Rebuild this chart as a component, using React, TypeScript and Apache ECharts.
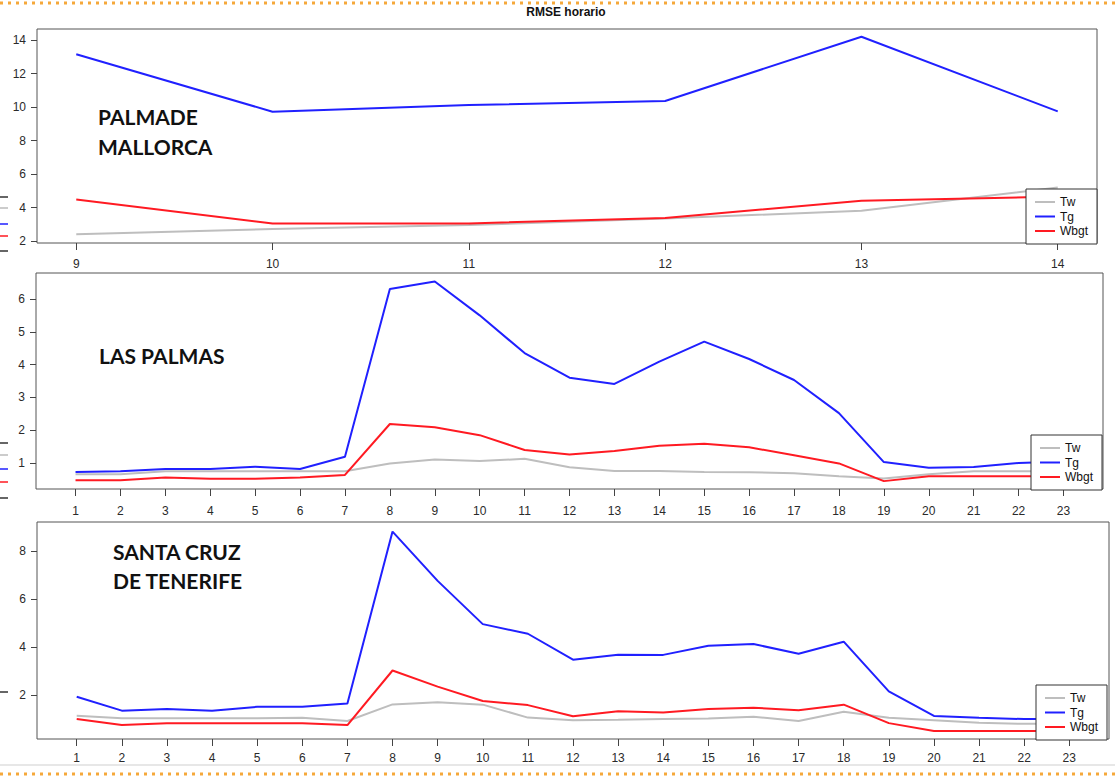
import React, { useEffect, useRef } from "react";
import * as echarts from "echarts";

const TITLE = "RMSE horario";
const SERIES_NAMES = ["Tw", "Tg", "Wbgt"];
const SERIES_COLORS = ["#bebebe", "#2020ff", "#ff1a22"];

// Panel 1: Palma de Mallorca
const PALMA_LABEL = ["PALMADE", "MALLORCA"];
const PALMA_HOURS = [9, 10, 11, 12, 13, 14];
const PALMA_TW = [2.4, 2.72, 2.95, 3.35, 3.8, 5.2];
const PALMA_TG = [13.15, 9.72, 10.12, 10.36, 14.2, 9.74];
const PALMA_WBGT = [4.48, 3.05, 3.05, 3.37, 4.4, 4.65];
const PALMA_Y_TICKS = [2, 4, 6, 8, 10, 12, 14];

// Panel 2: Las Palmas
const LP_LABEL = ["LAS PALMAS"];
const CANARY_HOURS = [1, 2, 3, 4, 5, 6, 7, 8, 9, 10, 11, 12, 13, 14, 15, 16, 17, 18, 19, 20, 21, 22, 23];
const LP_TW = [0.66, 0.66, 0.75, 0.75, 0.75, 0.75, 0.75, 0.99, 1.11, 1.06, 1.13, 0.87, 0.76, 0.76, 0.73, 0.72, 0.69, 0.6, 0.53, 0.66, 0.75, 0.75, 0.75];
const LP_TG = [0.73, 0.75, 0.82, 0.82, 0.89, 0.82, 1.19, 6.3, 6.53, 5.5, 4.35, 3.6, 3.41, 4.09, 4.7, 4.17, 3.53, 2.52, 1.03, 0.86, 0.88, 1.0, 1.05];
const LP_WBGT = [0.48, 0.48, 0.56, 0.52, 0.52, 0.56, 0.64, 2.19, 2.09, 1.85, 1.4, 1.26, 1.37, 1.53, 1.59, 1.48, 1.24, 0.99, 0.45, 0.6, 0.6, 0.6, 0.6];
const LP_Y_TICKS = [1, 2, 3, 4, 5, 6];

// Panel 3: Santa Cruz de Tenerife
const SC_LABEL = ["SANTA CRUZ", "DE TENERIFE"];
const SC_TW = [1.14, 1.03, 1.03, 1.03, 1.03, 1.05, 0.92, 1.61, 1.7, 1.6, 1.06, 0.95, 0.97, 1.0, 1.02, 1.1, 0.92, 1.3, 1.05, 0.95, 0.85, 0.8, 0.8];
const SC_TG = [1.93, 1.35, 1.42, 1.35, 1.51, 1.51, 1.65, 8.8, 6.75, 4.95, 4.55, 3.47, 3.68, 3.67, 4.05, 4.12, 3.72, 4.22, 2.15, 1.13, 1.05, 1.0, 1.0];
const SC_WBGT = [1.0, 0.75, 0.83, 0.83, 0.83, 0.83, 0.75, 3.02, 2.35, 1.75, 1.58, 1.12, 1.32, 1.27, 1.42, 1.47, 1.37, 1.6, 0.83, 0.5, 0.5, 0.5, 0.5];
const SC_Y_TICKS = [2, 4, 6, 8];

const FONT = "'Liberation Sans', Arial, sans-serif";

export default function App() {
  const ref = useRef<HTMLDivElement>(null);

  useEffect(() => {
    document.body.style.margin = "0";
    const chart = echarts.init(ref.current!, null, { renderer: "svg" });

    const panels = [
      {
        hours: PALMA_HOURS, values: [PALMA_TW, PALMA_TG, PALMA_WBGT], yTicks: PALMA_Y_TICKS,
        grid: { left: 37, top: 29, width: 1060, height: 214 },
        xMin: 8.8, xMax: 14.2, yMin: 1.88, yMax: 14.66, xLabelMargin: 15,
        legend: { left: 1026, top: 189 },
      },
      {
        hours: CANARY_HOURS, values: [LP_TW, LP_TG, LP_WBGT], yTicks: LP_Y_TICKS,
        grid: { left: 36, top: 273, width: 1067, height: 216 },
        xMin: 0.12, xMax: 23.88, yMin: 0.21, yMax: 6.79, xLabelMargin: 16,
        legend: { left: 1031, top: 435 },
      },
      {
        hours: CANARY_HOURS, values: [SC_TW, SC_TG, SC_WBGT], yTicks: SC_Y_TICKS,
        grid: { left: 37, top: 522, width: 1072, height: 217 },
        xMin: 0.12, xMax: 23.88, yMin: 0.17, yMax: 9.2, xLabelMargin: 13,
        legend: { left: 1036, top: 685 },
      },
    ];

    const grids = panels.map((p) => ({
      ...p.grid, show: true, borderColor: "#555", borderWidth: 1, backgroundColor: "transparent", containLabel: false,
    }));

    const xAxes = panels.map((p, i) => ({
      type: "value", gridIndex: i, min: p.xMin, max: p.xMax,
      splitLine: { show: false },
      axisLine: { show: false },
      axisTick: { show: true, length: 7, inside: false, customValues: p.hours, lineStyle: { color: "#444" } },
      axisLabel: { customValues: p.hours, margin: p.xLabelMargin, fontSize: 12, color: "#2a2a2a", fontFamily: FONT },
    }));

    const yAxes = panels.map((p, i) => ({
      type: "value", gridIndex: i, min: p.yMin, max: p.yMax,
      splitLine: { show: false },
      axisLine: { show: false },
      axisTick: { show: true, length: 6, inside: false, customValues: p.yTicks, lineStyle: { color: "#444" } },
      axisLabel: { customValues: p.yTicks, margin: 11, fontSize: 12, color: "#2a2a2a", fontFamily: FONT },
    }));

    const series: any[] = [];
    panels.forEach((p, i) => {
      SERIES_NAMES.forEach((name, k) => {
        series.push({
          type: "line", name, xAxisIndex: i, yAxisIndex: i,
          data: p.hours.map((h, j) => [h, p.values[k][j]]),
          showSymbol: false, symbol: "none", color: SERIES_COLORS[k],
          lineStyle: { width: 2, color: SERIES_COLORS[k] },
          z: 2 + k,
        });
      });
    });

    const legends = panels.map((p) => ({
      left: p.legend.left, top: p.legend.top, orient: "vertical",
      data: SERIES_NAMES, selectedMode: false, icon: "rect",
      itemWidth: 20, itemHeight: 2, itemGap: 2.5,
      backgroundColor: "#fff", borderColor: "#333", borderWidth: 1, borderRadius: 0,
      padding: [7, 9, 7, 9],
      textStyle: { fontSize: 12, color: "#111", fontFamily: FONT, lineHeight: 11 },
      z: 10,
    }));

    const panelText = (lines: string[], x: number, y0: number, gap: number) =>
      lines.map((t, i) => ({
        type: "text", x, y: y0 + i * gap,
        style: { text: t, fill: "#111", font: "bold 21px Lato, 'Open Sans', sans-serif", textVerticalAlign: "middle" },
        z: 20,
      }));

    const leftMarks = [
      [197, "#333"], [208, "#bbb"], [224, "#2020ff"], [236, "#ff1a22"], [251, "#333"],
      [443, "#333"], [455, "#bbb"], [469, "#2020ff"], [482, "#ff1a22"], [498, "#333"],
      [692, "#333"],
    ].map(([y, c]) => ({
      type: "line", shape: { x1: 0, y1: y as number, x2: 8, y2: y as number },
      style: { stroke: c as string, lineWidth: 1.5 },
    }));

    const graphic: any[] = [
      {
        type: "line", shape: { x1: 0, y1: 3, x2: 1115, y2: 3 },
        style: { stroke: "#f5a83a", lineWidth: 3, lineDash: [3, 5] },
      },
      {
        type: "line", shape: { x1: 0, y1: 765, x2: 1115, y2: 765 },
        style: { stroke: "#cfcfcf", lineWidth: 1 },
      },
      {
        type: "line", shape: { x1: 0, y1: 774, x2: 1115, y2: 774 },
        style: { stroke: "#f5a83a", lineWidth: 3, lineDash: [3, 5] },
      },
      {
        type: "text", x: 566, y: 12,
        style: { text: TITLE, fill: "#111", font: `bold 12px ${FONT}`, textAlign: "center", textVerticalAlign: "middle" },
      },
      ...panelText(PALMA_LABEL, 98, 116, 30),
      ...panelText(LP_LABEL, 99, 355, 30),
      ...panelText(SC_LABEL, 113, 551, 29.5),
      ...leftMarks,
    ];

    chart.setOption({
      animation: false,
      backgroundColor: "#fff",
      grid: grids,
      xAxis: xAxes,
      yAxis: yAxes,
      legend: legends,
      series,
      graphic,
    } as any);

    return () => chart.dispose();
  }, []);

  return <div ref={ref} style={{ position: "fixed", left: 0, top: 0, width: 1115, height: 779 }} />;
}
